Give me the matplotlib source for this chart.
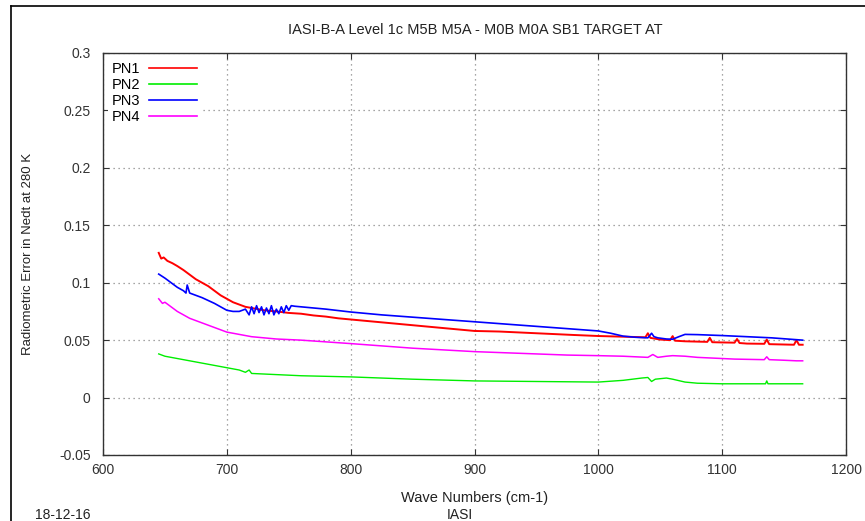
import matplotlib
matplotlib.use("Agg")
import matplotlib.pyplot as plt
from matplotlib.lines import Line2D

plt.rcParams["font.family"] = ["Liberation Sans", "DejaVu Sans"]

TITLE = "IASI-B-A Level 1c M5B M5A - M0B M0A SB1 TARGET AT"

# PN1 (red)
pn1_x = [645, 647, 649, 652, 656, 660, 665, 670, 675, 680, 685, 690, 695, 700,
         705, 710, 715, 720, 725, 730, 740, 750, 760, 770, 780, 790, 800, 820,
         840, 860, 880, 900, 920, 940, 960, 980, 1000, 1020, 1038, 1040, 1042,
         1050, 1058, 1060, 1062, 1070, 1088, 1090, 1092, 1100, 1110, 1112,
         1114, 1120, 1134, 1136, 1138, 1150, 1158, 1160, 1162, 1165]
pn1_y = [0.126, 0.121, 0.122, 0.119, 0.117, 0.1145, 0.111, 0.107, 0.103, 0.100,
         0.097, 0.093, 0.089, 0.086, 0.083, 0.081, 0.079, 0.078, 0.077, 0.076,
         0.075, 0.0737, 0.073, 0.0715, 0.0705, 0.069, 0.068, 0.066, 0.064,
         0.062, 0.060, 0.058, 0.0575, 0.0565, 0.0555, 0.0545, 0.0536, 0.053,
         0.0525, 0.056, 0.052, 0.0505, 0.050, 0.0535, 0.0495, 0.049, 0.0485,
         0.052, 0.0482, 0.048, 0.0478, 0.051, 0.0475, 0.047, 0.0468, 0.0505,
         0.0465, 0.0462, 0.046, 0.050, 0.046, 0.046]

# PN2 (green)
pn2_x = [645, 650, 660, 670, 680, 690, 700, 710, 715, 718, 720, 730, 740, 760,
         780, 800, 850, 900, 950, 1000, 1020, 1035, 1040, 1043, 1046, 1055,
         1060, 1070, 1080, 1100, 1120, 1135, 1136, 1137, 1150, 1165]
pn2_y = [0.038, 0.036, 0.034, 0.032, 0.030, 0.028, 0.026, 0.024, 0.022, 0.024,
         0.021, 0.0205, 0.020, 0.019, 0.0185, 0.018, 0.016, 0.0145, 0.014,
         0.0135, 0.015, 0.017, 0.0175, 0.014, 0.016, 0.017, 0.016, 0.0135,
         0.0125, 0.012, 0.012, 0.012, 0.0145, 0.012, 0.012, 0.012]

# PN3 (blue)
pn3_x = [645, 650, 655, 660, 665, 667, 668, 670, 675, 680, 690, 700, 705, 710,
         715, 718, 720, 722, 724, 726, 728, 730, 732, 734, 736, 738, 740, 742,
         744, 746, 748, 750, 752, 755, 760, 770, 780, 800, 825, 850, 875, 900,
         925, 950, 975, 1000, 1010, 1020, 1030, 1040, 1043, 1045, 1048, 1055,
         1060, 1065, 1070, 1080, 1100, 1120, 1140, 1165]
pn3_y = [0.1075, 0.104, 0.100, 0.096, 0.093, 0.091, 0.098, 0.091, 0.089, 0.087,
         0.082, 0.076, 0.075, 0.075, 0.077, 0.072, 0.079, 0.073, 0.080, 0.074,
         0.079, 0.072, 0.078, 0.073, 0.080, 0.072, 0.077, 0.073, 0.079, 0.074,
         0.080, 0.076, 0.080, 0.0795, 0.079, 0.078, 0.077, 0.0745, 0.072, 0.070,
         0.068, 0.066, 0.064, 0.062, 0.060, 0.058, 0.056, 0.0535, 0.0525,
         0.052, 0.056, 0.053, 0.052, 0.051, 0.0508, 0.053, 0.055, 0.0548,
         0.054, 0.053, 0.052, 0.050]

# PN4 (magenta)
pn4_x = [645, 648, 650, 655, 660, 670, 680, 690, 700, 710, 720, 730, 740, 760,
         780, 800, 825, 850, 875, 900, 925, 950, 975, 1000, 1020, 1040, 1044,
         1048, 1055, 1060, 1070, 1080, 1090, 1100, 1110, 1134, 1136, 1138,
         1150, 1160, 1165]
pn4_y = [0.086, 0.082, 0.083, 0.079, 0.075, 0.069, 0.065, 0.061, 0.057, 0.055,
         0.053, 0.052, 0.051, 0.050, 0.0485, 0.047, 0.045, 0.043, 0.0415,
         0.040, 0.039, 0.038, 0.037, 0.0365, 0.036, 0.035, 0.0375, 0.035,
         0.036, 0.0365, 0.036, 0.035, 0.0345, 0.034, 0.0335, 0.033, 0.0355,
         0.033, 0.0325, 0.032, 0.032]

series = [
    ("PN1", pn1_x, pn1_y, "#ff0000", 1.4),
    ("PN2", pn2_x, pn2_y, "#00ee00", 1.0),
    ("PN3", pn3_x, pn3_y, "#0000ff", 1.2),
    ("PN4", pn4_x, pn4_y, "#ff00ff", 1.1),
]

x_ticks = [600, 700, 800, 900, 1000, 1100, 1200]
y_ticks = [-0.05, 0, 0.05, 0.1, 0.15, 0.2, 0.25, 0.3]
y_labels = ["-0.05", "0", "0.05", "0.1", "0.15", "0.2", "0.25", "0.3"]

fig = plt.figure(figsize=(8.65, 5.21), dpi=100)
ax = fig.add_axes([103 / 865, 1 - 455 / 521, 743 / 865, 402 / 521])

for name, xs, ys, col, lw in series:
    ax.plot(xs, ys, color=col, lw=lw, label=name)

ax.set_xlim(600, 1200)
ax.set_ylim(-0.05, 0.3)
ax.set_xticks(x_ticks)
ax.set_yticks(y_ticks)
ax.set_yticklabels(y_labels)
ax.tick_params(direction="in", top=True, right=True, labelsize=10,
               colors="#333333", length=4, pad=9)
ax.tick_params(axis="x", pad=6)
ax.grid(True, ls=(0, (1, 3)), color="#888888", lw=0.9)
for sp in ax.spines.values():
    sp.set_color("#333333")
    sp.set_linewidth(1.0)

ax.set_xlabel("Wave Numbers (cm-1)", fontsize=10.5, color="#222222", labelpad=10)
ax.set_ylabel("Radiometric Error in Nedt at 280 K", fontsize=9.5, color="#222222",
              labelpad=18)
fig.text(475 / 865, 1 - 30 / 521, TITLE, ha="center", va="center",
         fontsize=10.5, color="#222222")

handles = [Line2D([], [], color=c, lw=1.2) for _, _, _, c, _ in series]
leg = ax.legend(handles, [s[0] for s in series], loc="upper left",
                bbox_to_anchor=(0.0, 1.0), frameon=True, fancybox=False,
                fontsize=10.5, handlelength=3.3, handletextpad=0.6,
                labelspacing=0.15, borderaxespad=0.35, borderpad=0.25,
                markerfirst=False)
leg.get_frame().set_facecolor("white")
leg.get_frame().set_edgecolor("none")
leg.get_frame().set_alpha(1.0)

# outer frame (left and top edges)
fig.add_artist(Line2D([11 / 865, 11 / 865], [0, 1 - 6 / 521],
                      transform=fig.transFigure, color="black", lw=1.2))
fig.add_artist(Line2D([11 / 865, 1], [1 - 6 / 521, 1 - 6 / 521],
                      transform=fig.transFigure, color="black", lw=1.2))

fig.text(35 / 865, 1 - 515 / 521, "18-12-16", ha="left", va="center",
         fontsize=10, color="#222222")
fig.text(460 / 865, 1 - 515 / 521, "IASI", ha="center", va="center",
         fontsize=10, color="#222222")

fig.savefig("out.png", dpi=100, facecolor="white")
